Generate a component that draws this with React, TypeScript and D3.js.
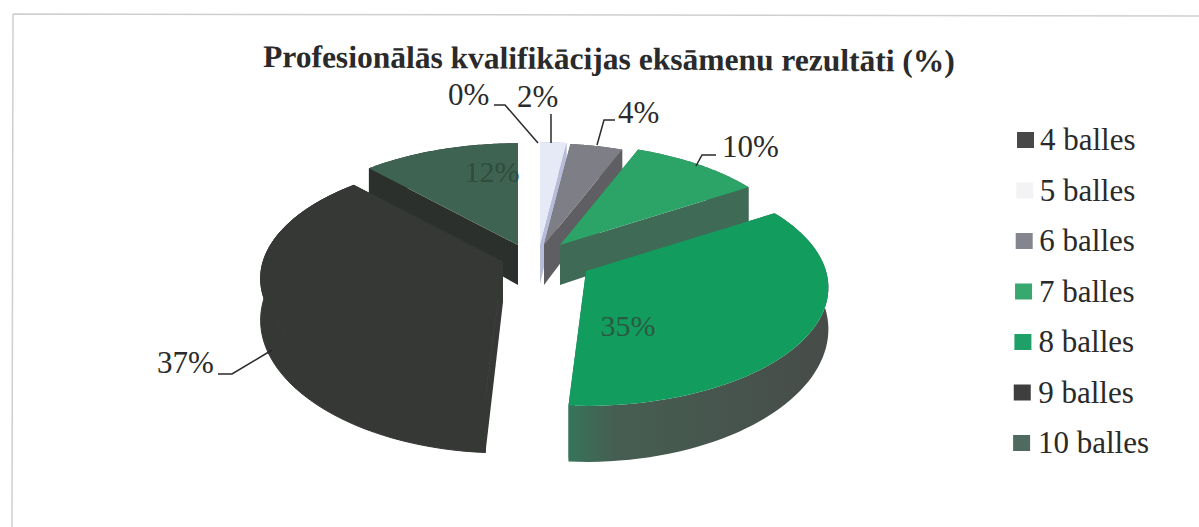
import React from "react";
import * as d3 from "d3";

const W = 1199, H = 527;
const categories = ["4 balles","5 balles","6 balles","7 balles","8 balles","9 balles","10 balles"];
const values = [0, 2, 4, 10, 35, 37, 12];
const labels = ["0%","2%","4%","10%","35%","37%","12%"];
const topColors = ["#4a4a4a","#e6eaf6","#7e7e86","#2ca468","#129c5e","#363835","#3f6353"];
const sideColors = ["#333333","#b7bcd8","#5f5f63","#3f6a55","url(#rim35)","#363835","#2b302d"];
const legendColors = ["#484848","#f3f3f5","#85858f","#37a86e","#1fa068","#3e3e3e","#4f6a5e"];
const title = "Profesionālās kvalifikācijas eksāmenu rezultāti (%)";

const serif = "'Liberation Serif', serif";
// projection of the tilted disc
const A = 240, B = 116, K = 0.14, D = 40, KZ = 0.286;
// where each exploded slice's apex lands
const apexX = [540, 540, 544, 560, 586, 503, 518];
const apexY = [244, 244, 245, 245, 271, 262, 245];

const arcs = d3.pie<number>().sort(null).startAngle(0).endAngle(2 * Math.PI)(values);
const line = d3.line();
const sample = (a0: number, a1: number) => d3.range(0, 61).map(k => a0 + (a1 - a0) * k / 60);
const proj = (i: number, a: number, down = false): [number, number] => {
  const u = Math.sin(a), v = Math.cos(a);
  const d = 1 + K * v;
  return [apexX[i] + (A * u) / d, apexY[i] - (B * v) / d + (down ? D / (1 + KZ * v) : 0)];
};
const apex = (i: number, down = false): [number, number] => [apexX[i], apexY[i] + (down ? D : 0)];

const topPath = (i: number) => {
  const a = arcs[i];
  return line([apex(i), ...sample(a.startAngle, a.endAngle).map(t => proj(i, t))]) + "Z";
};
const rimPath = (i: number) => {
  const s = sample(arcs[i].startAngle, arcs[i].endAngle);
  return line([...s.map(t => proj(i, t)), ...s.slice().reverse().map(t => proj(i, t, true))]) + "Z";
};
const cutPath = (i: number, t: number) =>
  line([apex(i), proj(i, t), proj(i, t, true), apex(i, true)]) + "Z";

const drawOrder = [1, 2, 6, 3, 5, 4];
const leaderPts: [number, number][][] = [
  [[494, 105], [505, 105], [538, 143]],
  [[551, 114], [551, 143]],
  [[615, 120], [604, 120], [597, 145]],
  [[716, 155], [702, 155], [696, 166]],
  [[218, 374], [232, 374], [272, 350]],
];
const outerLabels = ["0%", "2%", "4%", "10%", "37%"];
const outerX = [448, 517, 618, 722, 157];
const outerY = [105, 107, 123, 157, 373];

export default function App() {
  return (
    <svg width={W} height={H} viewBox={`0 0 ${W} ${H}`} style={{ position: "absolute", left: 0, top: 0, background: "#fff" }}>
      <defs>
        <linearGradient id="rim35" x1="0" x2="1" y1="0" y2="0">
          <stop offset="0" stopColor="#36745a" />
          <stop offset="0.18" stopColor="#465e52" />
          <stop offset="1" stopColor="#474c49" />
        </linearGradient>
      </defs>
      <path d="M13 14L1199 16M13 14L12 527" fill="none" stroke="#cfcfcf" strokeWidth={1.5} />
      <text x={263} y={67} transform="rotate(0.38 263 67)" fontFamily={serif} fontWeight="bold" fontSize={31.5} fill="#2a2a2a">{title}</text>
      {drawOrder.map(i => {
        const cutFill = i === 4 ? "#36745a" : sideColors[i];
        const seam = i === 5 ? "#363835" : "none";
        return (
          <g key={i}>
            <path d={cutPath(i, arcs[i].startAngle)} fill={cutFill} />
            <path d={cutPath(i, arcs[i].endAngle)} fill={cutFill} />
            <path d={rimPath(i)} fill={sideColors[i]} stroke={seam} />
            <path d={topPath(i)} fill={topColors[i]} stroke={seam} />
          </g>
        );
      })}
      {leaderPts.map((p, i) => <path key={i} d={line(p)!} fill="none" stroke="#2a2a2a" strokeWidth={1.5} />)}
      {outerLabels.map((l, i) => (
        <text key={l} x={outerX[i]} y={outerY[i]} fontFamily={serif} fontSize={31} fill="#2a2a2a">{l}</text>
      ))}
      <text x={628} y={336} textAnchor="middle" fontFamily={serif} fontSize={30} fill="#2a5a42">{labels[4]}</text>
      <text x={492} y={182} textAnchor="middle" fontFamily={serif} fontSize={30} fill="#304c3d">{labels[6]}</text>
      {categories.map((c, i) => (
        <g key={c}>
          <rect x={1017 - i * 0.65} y={132 + i * 50.5} width={17} height={16} fill={legendColors[i]} />
          <text x={1040 - i * 0.35} y={150 + i * 50.5} fontFamily={serif} fontSize={31} fill="#2a2a2a">{c}</text>
        </g>
      ))}
    </svg>
  );
}
